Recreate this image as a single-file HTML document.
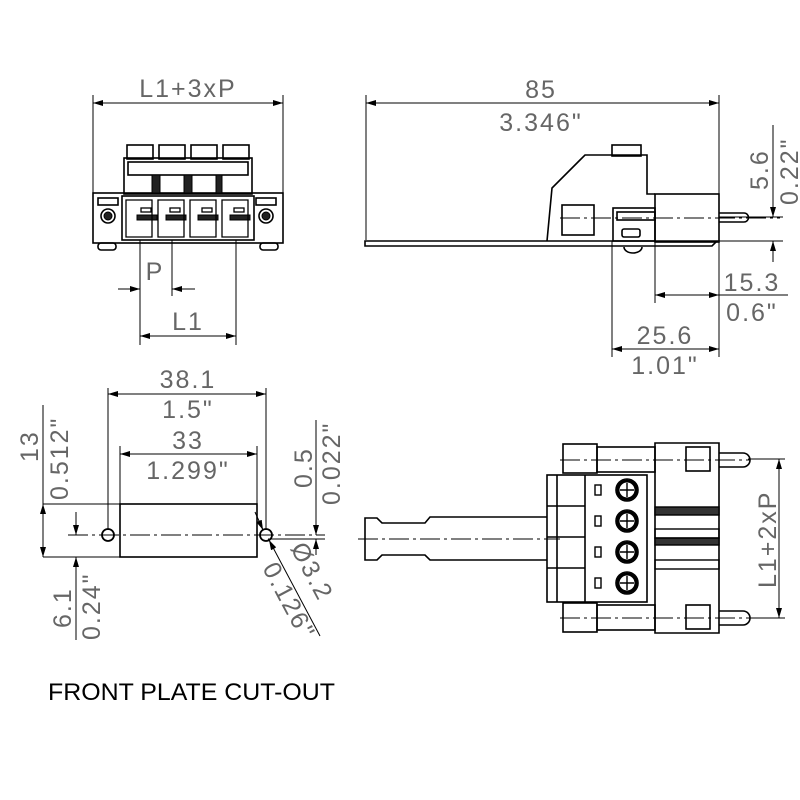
<!DOCTYPE html>
<html><head><style>html,body{margin:0;padding:0;background:#fff}svg{display:block}
text{font-family:"Liberation Sans",sans-serif;fill:#666;font-size:25px;letter-spacing:2px}
</style></head><body>
<svg width="800" height="800" viewBox="0 0 800 800" xmlns="http://www.w3.org/2000/svg">
<defs>
<marker id="a" viewBox="0 0 10 6" refX="10" refY="3" markerWidth="10" markerHeight="6" orient="auto-start-reverse" markerUnits="userSpaceOnUse"><path d="M0,0L10,3L0,6z" fill="#000"/></marker>
</defs>
<g stroke="#000" fill="none" stroke-width="1">
<line x1="93" y1="95" x2="93" y2="193"/><line x1="283" y1="95" x2="283" y2="193"/>
<line x1="93" y1="103" x2="283" y2="103" marker-start="url(#a)" marker-end="url(#a)"/>
<g stroke-width="1.6">
<rect x="127" y="145" width="26" height="14"/><rect x="159" y="145" width="26" height="14"/><rect x="191" y="145" width="26" height="14"/><rect x="223" y="145" width="26" height="14"/>
<rect x="124" y="158" width="128" height="36"/>
<rect x="128" y="162" width="120" height="13"/>
<rect x="93" y="193" width="190" height="50"/>
<rect x="122" y="196" width="132" height="44"/>
<rect x="98" y="243" width="18" height="7" rx="3"/><rect x="260" y="243" width="18" height="7" rx="3"/>
<circle cx="108" cy="216" r="7"/><circle cx="266" cy="216" r="7"/>
<rect x="98" y="198" width="20" height="7"/><rect x="256" y="198" width="20" height="7"/>
</g>
<g fill="#222"><rect x="152" y="175" width="8" height="18"/><rect x="184" y="175" width="8" height="18"/><rect x="216" y="175" width="6" height="18"/>
<rect x="137" y="215" width="20" height="5"/><rect x="166" y="215" width="20" height="5"/><rect x="198" y="215" width="20" height="5"/><rect x="230" y="215" width="20" height="5"/>
<circle cx="108" cy="216" r="4"/><circle cx="266" cy="216" r="4"/></g>
<g stroke-width="1.3">
<path d="M126,200h26v37h-26z M158,200h26v37h-26z M190,200h26v37h-26z M222,200h26v37h-26z"/>
<rect x="141" y="208" width="10" height="4"/><rect x="170" y="208" width="10" height="4"/><rect x="202" y="208" width="10" height="4"/><rect x="234" y="208" width="10" height="4"/>
</g>
<line x1="140" y1="240" x2="140" y2="345"/><line x1="172" y1="240" x2="172" y2="296"/><line x1="236" y1="240" x2="236" y2="345"/>
<line x1="118" y1="289" x2="140" y2="289" marker-end="url(#a)"/><line x1="195" y1="289" x2="172" y2="289" marker-end="url(#a)"/>
<line x1="140" y1="336" x2="236" y2="336" marker-start="url(#a)" marker-end="url(#a)"/>
<line x1="366" y1="95" x2="366" y2="240"/><line x1="719" y1="95" x2="719" y2="194"/>
<line x1="366" y1="103" x2="719" y2="103" marker-start="url(#a)" marker-end="url(#a)"/>
<g stroke-width="1.6">
<path d="M365,241H717L712,246H365z"/>
<path d="M547,241L552,188L580,160L585,155H647V194H655"/>
<rect x="612" y="145" width="29" height="11"/>
<rect x="655" y="194" width="64" height="48"/>
<path d="M719,213h25a4,4 0 0 1 0,9h-25"/>
<rect x="562" y="205" width="32" height="30"/>
<rect x="613" y="208" width="42" height="33"/>
<rect x="617" y="212" width="38" height="8"/>
<rect x="622" y="229" width="18" height="8" rx="2"/>
<path d="M624,247a9,6 0 0 0 18,0"/>
</g>
<line x1="560" y1="218" x2="780" y2="218" stroke-dasharray="20,4,3,4"/>
<line x1="719" y1="217" x2="783" y2="217"/><line x1="719" y1="241" x2="783" y2="241"/>
<line x1="773" y1="125" x2="773" y2="217" marker-end="url(#a)"/><line x1="773" y1="262" x2="773" y2="241" marker-end="url(#a)"/>
<line x1="655" y1="242" x2="655" y2="303"/><line x1="719" y1="242" x2="719" y2="357"/><line x1="612" y1="241" x2="612" y2="357"/>
<line x1="655" y1="295" x2="719" y2="295" marker-start="url(#a)" marker-end="url(#a)"/><line x1="719" y1="295" x2="788" y2="295"/>
<line x1="612" y1="349" x2="719" y2="349" marker-start="url(#a)" marker-end="url(#a)"/>
<line x1="108" y1="388" x2="108" y2="530"/><line x1="266" y1="388" x2="266" y2="530"/>
<line x1="108" y1="394" x2="266" y2="394" marker-start="url(#a)" marker-end="url(#a)"/>
<line x1="120" y1="446" x2="120" y2="504"/><line x1="257" y1="446" x2="257" y2="504"/>
<line x1="120" y1="454" x2="257" y2="454" marker-start="url(#a)" marker-end="url(#a)"/>
<rect x="120" y="504" width="137" height="53" stroke-width="1.6"/>
<line x1="68" y1="535" x2="325" y2="535" stroke-dasharray="20,4,3,4"/>
<circle cx="108" cy="535" r="6" stroke-width="1.8"/><circle cx="266" cy="535" r="6" stroke-width="1.8"/>
<line x1="43" y1="504" x2="120" y2="504"/><line x1="43" y1="557" x2="120" y2="557"/>
<line x1="43" y1="405" x2="43" y2="557"/>
<line x1="43" y1="520" x2="43" y2="504" marker-end="url(#a)"/><line x1="43" y1="540" x2="43" y2="557" marker-end="url(#a)"/>
<line x1="76" y1="512" x2="76" y2="535" marker-end="url(#a)"/><line x1="76" y1="640" x2="76" y2="557" marker-end="url(#a)"/>
<line x1="268" y1="539" x2="325" y2="539"/>
<line x1="316" y1="420" x2="316" y2="535" marker-end="url(#a)"/><line x1="316" y1="555" x2="316" y2="539" marker-end="url(#a)"/>
<line x1="255" y1="512" x2="263" y2="530" marker-end="url(#a)"/><line x1="320" y1="636" x2="269" y2="540" marker-end="url(#a)"/>
<g stroke-width="1.6">
<path d="M655,443h64v190h-64z"/>
<rect x="563" y="444" width="34" height="29"/><rect x="597" y="447" width="58" height="25"/>
<rect x="563" y="603" width="34" height="29"/><rect x="597" y="605" width="58" height="25"/>
<rect x="686" y="447" width="24" height="24"/><rect x="686" y="605" width="24" height="24"/>
<path d="M719,453h24a4,4 0 0 1 0,14h-24 M719,611h24a4,4 0 0 1 0,14h-24"/>
<rect x="547" y="475" width="100" height="127"/>
<line x1="557" y1="475" x2="557" y2="602"/><line x1="585" y1="475" x2="585" y2="602"/>
<path d="M547,517H430L425,523H382L377,518H365V560H377L382,555H425L430,560H547"/>
<circle cx="627" cy="490" r="11"/><circle cx="627" cy="521" r="11"/><circle cx="627" cy="552" r="11"/><circle cx="627" cy="583" r="11"/>
</g>
<g stroke-width="3"><circle cx="627" cy="490" r="9"/><circle cx="627" cy="521" r="9"/><circle cx="627" cy="552" r="9"/><circle cx="627" cy="583" r="9"/></g>
<g stroke-width="1.4"><rect x="595" y="485" width="6" height="10"/><rect x="595" y="516" width="6" height="10"/><rect x="595" y="547" width="6" height="10"/><rect x="595" y="578" width="6" height="10"/>
<path d="M620,490h14M627,483v14M620,521h14M627,514v14M620,552h14M627,545v14M620,583h14M627,576v14"/>
<path d="M547,506h38M547,537h38M547,568h38"/>
<rect x="655" y="507" width="64" height="8" fill="#333"/><rect x="655" y="538" width="64" height="7" fill="#333"/>
<rect x="655" y="529" width="64" height="9"/><rect x="655" y="560" width="64" height="9"/></g>
<line x1="358" y1="539" x2="560" y2="539" stroke-dasharray="20,4,3,4"/>
<line x1="560" y1="460" x2="750" y2="460" stroke-dasharray="20,4,3,4"/><line x1="560" y1="618" x2="750" y2="618" stroke-dasharray="20,4,3,4"/>
<line x1="748" y1="459" x2="785" y2="459"/><line x1="748" y1="618" x2="785" y2="618"/>
<line x1="779" y1="459" x2="779" y2="618" marker-start="url(#a)" marker-end="url(#a)"/>
</g>
<text x="188" y="97" text-anchor="middle">L1+3xP</text>
<text x="155" y="280" text-anchor="middle">P</text>
<text x="188" y="330" text-anchor="middle">L1</text>
<text x="541" y="98" text-anchor="middle">85</text>
<text x="541" y="131" text-anchor="middle">3.346"</text>
<text transform="translate(768,190) rotate(-90)">5.6</text>
<text transform="translate(798,205) rotate(-90)">0.22"</text>
<text x="752" y="291" text-anchor="middle">15.3</text>
<text x="752" y="321" text-anchor="middle">0.6"</text>
<text x="665" y="344" text-anchor="middle">25.6</text>
<text x="665" y="374" text-anchor="middle">1.01"</text>
<text x="188" y="388" text-anchor="middle">38.1</text>
<text x="188" y="418" text-anchor="middle">1.5"</text>
<text x="188" y="449" text-anchor="middle">33</text>
<text x="188" y="479" text-anchor="middle">1.299"</text>
<text transform="translate(38,462) rotate(-90)">13</text>
<text transform="translate(68,500) rotate(-90)">0.512"</text>
<text transform="translate(71,628) rotate(-90)">6.1</text>
<text transform="translate(100,640) rotate(-90)">0.24"</text>
<text transform="translate(312,488) rotate(-90)">0.5</text>
<text transform="translate(340,505) rotate(-90)">0.022"</text>
<text transform="translate(290,548) rotate(62)">Ø3.2</text>
<text transform="translate(262,568) rotate(62)">0.126"</text>
<text transform="translate(776,588) rotate(-90)">L1+2xP</text>
<text x="48" y="700" textLength="287" lengthAdjust="spacingAndGlyphs" style="fill:#000;font-size:24px;letter-spacing:0">FRONT PLATE CUT-OUT</text>
</svg>
</body></html>
